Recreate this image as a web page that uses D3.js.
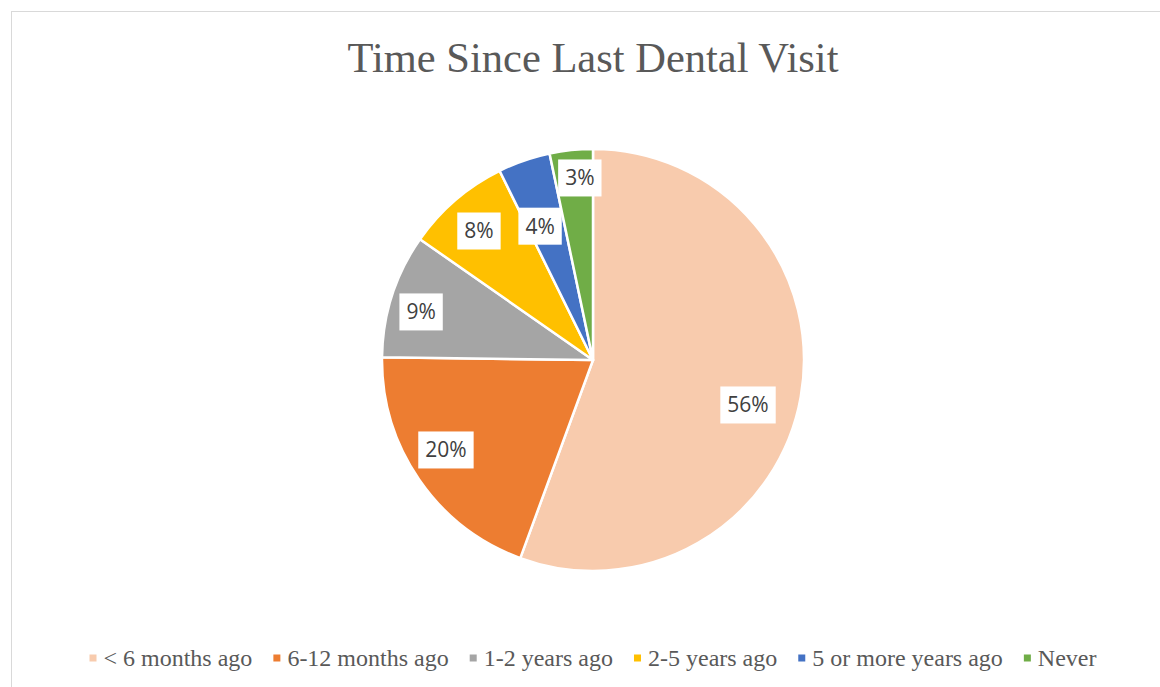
<!DOCTYPE html>
<html>
<head>
<meta charset="utf-8">
<script src="https://cdn.jsdelivr.net/npm/d3@7/dist/d3.min.js"></script>
<style>
  body { margin: 0; background: #fff; }
  svg { display: block; }
</style>
</head>
<body>
<svg id="chart" width="1160" height="687"></svg>
<script>
// data (share of respondents, %)
var categories = ["< 6 months ago", "6-12 months ago", "1-2 years ago", "2-5 years ago", "5 or more years ago", "Never"];
var values = [55.6, 19.6, 9.5, 8.0, 4.0, 3.3];
var labels = ["56%", "20%", "9%", "8%", "4%", "3%"];
var colors = ["#f8cbad", "#ed7d31", "#a5a5a5", "#ffc000", "#4472c4", "#70ad47"];

var svg = d3.select("#chart"),
    width = +svg.attr("width"),
    height = +svg.attr("height");

var cx = 593, cy = 360, radius = 211;
// excel "best fit" nudges labels per slice: [radius fraction, angle shift in degrees]
var labelPos = [[0.765, 6.1], [0.817, 3.1], [0.846, -2.2], [0.816, -0.8], [0.682, -2.5], [0.865, 1.8]];

// chart area border (runs off the right/bottom edge)
svg.append("rect")
    .attr("x", 11.5).attr("y", 11.5)
    .attr("width", width + 20).attr("height", height + 20)
    .attr("fill", "none")
    .attr("stroke", "#d9d9d9")
    .attr("stroke-width", 1);

svg.append("text")
    .attr("x", cx)
    .attr("y", 72)
    .attr("text-anchor", "middle")
    .style("font-family", "'Liberation Serif', 'Times New Roman', serif")
    .style("font-size", "42.5px")
    .style("fill", "#595959")
    .text("Time Since Last Dental Visit");

var pie = d3.pie().sort(null).value(function (d) { return d; });
var arcs = pie(values);
var arc = d3.arc().innerRadius(0).outerRadius(radius);

var g = svg.append("g").attr("transform", "translate(" + cx + "," + cy + ")");

g.selectAll(".slice")
    .data(arcs)
    .enter()
    .append("path")
    .attr("class", "slice")
    .attr("d", arc)
    .attr("fill", function (d, i) { return colors[i]; })
    .attr("stroke", "#fff")
    .attr("stroke-width", 2.5)
    .attr("stroke-linejoin", "round");

var lab = g.selectAll(".lbl")
    .data(arcs)
    .enter()
    .append("g")
    .attr("class", "lbl")
    .attr("transform", function (d, i) {
        var a = (d.startAngle + d.endAngle) / 2 + labelPos[i][1] * Math.PI / 180,
            r = radius * labelPos[i][0];
        return "translate(" + (Math.sin(a) * r) + "," + (-Math.cos(a) * r) + ")";
    });

lab.append("rect").attr("fill", "#fff");

lab.append("text")
    .attr("text-anchor", "middle")
    .attr("dy", "0.35em")
    .style("font-family", "'Open Sans', sans-serif")
    .style("font-size", "21px")
    .style("fill", "#404040")
    .text(function (d, i) { return labels[i]; });

lab.each(function () {
    var t = d3.select(this).select("text").node().getBBox();
    d3.select(this).select("rect")
        .attr("x", -t.width / 2 - 7)
        .attr("y", -18.5)
        .attr("width", t.width + 14)
        .attr("height", 37);
});

// legend along the bottom, centred under the pie
var legend = svg.append("g").attr("class", "legend");
var items = legend.selectAll(".item")
    .data(categories)
    .enter()
    .append("g")
    .attr("class", "item");

items.append("rect")
    .attr("width", 7).attr("height", 7)
    .attr("y", -3.5)
    .attr("fill", function (d, i) { return colors[i]; });

items.append("text")
    .attr("x", 14)
    .attr("dy", "0.33em")
    .style("font-family", "'Liberation Serif', 'Times New Roman', serif")
    .style("font-size", "24px")
    .style("fill", "#595959")
    .text(function (d) { return d; });

var x = 0, gap = 21;
items.each(function () {
    var w = d3.select(this).select("text").node().getComputedTextLength();
    d3.select(this).attr("transform", "translate(" + x + ",0)");
    x += 14 + w + gap;
});
var total = x - gap;
legend.attr("transform", "translate(" + (cx - total / 2) + ",658)");
</script>
</body>
</html>
